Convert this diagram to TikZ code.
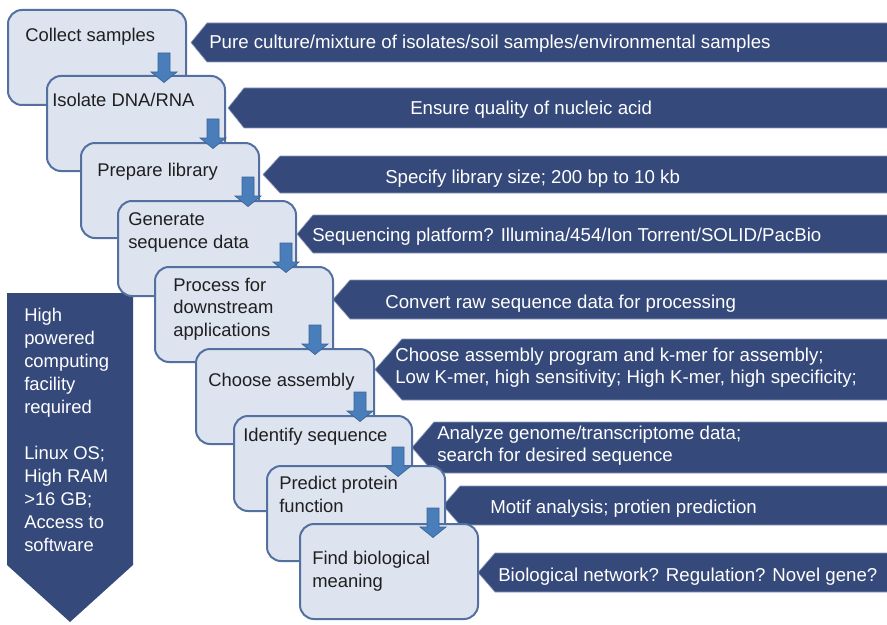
\documentclass[tikz,border=0pt]{standalone}
\usepackage{fontspec}
\setmainfont{Liberation Sans}
\usetikzlibrary{calc}
\definecolor{navy}{RGB}{53,73,122}
\definecolor{navyedge}{RGB}{140,155,190}
\definecolor{boxfill}{RGB}{221,228,240}
\definecolor{boxline}{RGB}{84,112,160}
\definecolor{arrfill}{RGB}{74,126,187}
\definecolor{arrline}{RGB}{58,98,150}
\tikzset{
  stepbox/.style={draw=boxline, line width=1.5pt, fill=boxfill, rounded corners=10.5pt,
    minimum width=133.5pt, minimum height=71.25pt, anchor=north west, inner sep=0pt},
  boxtext/.style={anchor=base west, inner sep=0pt, align=left,
    font=\fontsize{13.8}{16.9}\selectfont, text=black!88},
  bantext/.style={anchor=base west, inner sep=0pt, align=left,
    font=\fontsize{14}{16.5}\selectfont, text=white},
  banner/.style={fill=navy, draw=navyedge, line width=0.5pt},
  blockarr/.style={fill=arrfill, draw=arrline, line width=0.5pt, line join=miter},
}
\begin{document}
\begin{tikzpicture}[x=0.75pt,y=-0.75pt]
\useasboundingbox (0,0) rectangle (887,624);
\fill[white] (0,0) rectangle (887,624);

% banners
\draw[banner] (191,42.5) -- (207,23) -- (888,23) -- (888,62) -- (207,62) -- cycle;
\draw[banner] (228,108) -- (244,88) -- (888,88) -- (888,128) -- (244,128) -- cycle;
\draw[banner] (263,174.5) -- (280,156) -- (888,156) -- (888,193) -- (280,193) -- cycle;
\draw[banner] (297,234) -- (313,215) -- (888,215) -- (888,253) -- (313,253) -- cycle;
\draw[banner] (333,299.5) -- (350,280) -- (888,280) -- (888,319) -- (350,319) -- cycle;
\draw[banner] (375,369.5) -- (402,339) -- (888,339) -- (888,400) -- (402,400) -- cycle;
\draw[banner] (412,447.5) -- (434,422) -- (888,422) -- (888,473) -- (434,473) -- cycle;
\draw[banner] (443,505.5) -- (460,486) -- (888,486) -- (888,525) -- (460,525) -- cycle;
\draw[banner] (478,572.5) -- (495,553) -- (888,553) -- (888,592) -- (495,592) -- cycle;

\node[bantext] (t1) at (209,48.5) {Pure culture/mixture of isolates/soil samples/environmental samples};
\node[bantext] (t2) at (410,114.5) {Ensure quality of nucleic acid};
\node[bantext] (t3) at (385,183.5) {Specify library size; 200 bp to 10 kb};
\node[bantext] (t4) at (312,241.5) {Sequencing platform? Illumina/454/Ion Torrent/SOLID/PacBio};
\node[bantext] (t5) at (385,308.5) {Convert raw sequence data for processing};
\node[bantext] (t6) at (395,383.5) {Choose assembly program and k-mer for assembly;\\Low K-mer, high sensitivity; High K-mer, high specificity;};
\node[bantext] (t7) at (437,461.5) {Analyze genome/transcriptome data;\\search for desired sequence};
\node[bantext] (t8) at (490,513.5) {Motif analysis; protien prediction};
\node[bantext] (t9) at (498,581.5) {Biological network? Regulation? Novel gene?};

% big left arrow
\fill[navy] (7,293) -- (133,293) -- (133,565) -- (70,622) -- (7,565) -- cycle;
\node[bantext, font=\fontsize{13.8}{17.25}\selectfont] (req) at (24,551.5)
  {High\\powered\\computing\\facility\\required\\[17.25pt]Linux OS;\\High RAM\\>16 GB;\\Access to\\software};

% step boxes
\node[stepbox] (b1) at (7,9) {};
\node[stepbox] (b2) at (46,75) {};
\node[stepbox] (b3) at (80,142) {};
\node[stepbox] (b4) at (117,200) {};
\node[stepbox] (b5) at (154,266) {};
\node[stepbox] (b6) at (195,348) {};
\node[stepbox] (b7) at (233,415) {};
\node[stepbox] (b8) at (266,465) {};
\node[stepbox] (b9) at (299,523) {};

\node[boxtext] (l1) at (25,41.5) {Collect samples};
\node[boxtext] (l2) at (52,106.5) {Isolate DNA/RNA};
\node[boxtext] (l3) at (97,176.5) {Prepare library};
\node[boxtext] (l4) at (128,248) {Generate\\sequence data};
\node[boxtext] (l5) at (173,336.5) {Process for\\downstream\\applications};
\node[boxtext] (l6) at (208,386.5) {Choose assembly};
\node[boxtext] (l7) at (243,441.5) {Identify sequence};
\node[boxtext] (l8) at (279,512) {Predict protein\\function};
\node[boxtext] (l9) at (312,587) {Find biological\\meaning};

% small block arrows between steps
\newcommand\stepdown[1]{%
  \draw[blockarr] #1 ++(-6,0) -- ++(12,0) -- ++(0,19) -- ++(7,0) -- ++(-13,10.5)
    -- ++(-13,-10.5) -- ++(7,0) -- cycle;}
\stepdown{($(b1.north east)+(-23,44)$)}
\stepdown{($(b2.north east)+(-13,44)$)}
\stepdown{($(b3.north east)+(-12,35)$)}
\stepdown{($(b4.north east)+(-11,43)$)}
\stepdown{($(b5.north east)+(-19,59)$)}
\stepdown{($(b6.north east)+(-15,44)$)}
\stepdown{($(b7.north east)+(-15,32)$)}
\stepdown{($(b8.north east)+(-13,43)$)}
\end{tikzpicture}
\end{document}
